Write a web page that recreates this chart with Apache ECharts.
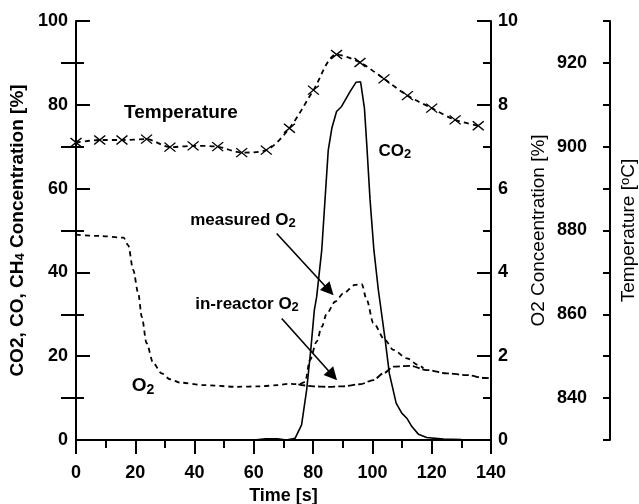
<!DOCTYPE html>
<html><head><meta charset="utf-8">
<script src="https://cdn.jsdelivr.net/npm/echarts@6/dist/echarts.min.js"></script>
<style>html,body{margin:0;padding:0;background:#fff}#c{width:639px;height:504px}</style>
</head><body><div id="c"></div>
<script>
// ---- data ----
const co2Time = [0, 20, 40, 60, 64, 68, 71, 73.9, 76.1, 77.8, 79.2, 80.4, 81.2, 82.9, 84.0, 85.1, 86.3, 87.9, 89.6, 92.4, 94.5, 96.0, 97.3, 98.1, 99.2, 100.5, 102.0, 104.3, 105.7, 108.0, 109.9, 111.6, 113.3, 115.5, 118.3, 124, 130, 140];
const co2 = [0, 0, 0, 0, 0.3, 0.3, 0, 0.4, 3.6, 11.9, 21.5, 31.0, 34.2, 45.3, 57.3, 69.2, 74.4, 78.4, 79.6, 83.1, 85.4, 85.5, 79.2, 70.4, 57.3, 45.3, 35.8, 23.9, 15.9, 8.8, 6.4, 5.2, 3.2, 1.4, 0.6, 0.2, 0.1, 0];

const measO2Time = [0, 8, 16, 17.6, 19.3, 21.0, 22.2, 23.8, 26.1, 28.9, 31.7, 35.1, 42.9, 54.2, 62, 68, 72, 75, 77.3, 78.9, 81.2, 82.9, 84.6, 87.4, 90.2, 94.1, 96.4, 98.1, 100.3, 104.2, 107.1, 111.6, 115.5, 117.2];
const measO2 = [4.9, 4.87, 4.83, 4.65, 4.06, 3.5, 2.94, 2.31, 1.83, 1.59, 1.45, 1.37, 1.31, 1.27, 1.28, 1.31, 1.34, 1.33, 1.38, 1.91, 2.35, 2.70, 3.02, 3.3, 3.5, 3.7, 3.72, 3.34, 2.79, 2.39, 2.15, 1.95, 1.79, 1.71];

const inO2Time = [75, 80, 85, 90, 95.8, 100.3, 103.7, 107.1, 112.7, 118.3, 125.1, 131.8, 138, 140];
const inO2 = [1.33, 1.28, 1.27, 1.28, 1.33, 1.43, 1.59, 1.75, 1.77, 1.67, 1.59, 1.55, 1.48, 1.47];

const tempTime = [0, 8, 15.5, 23.8, 31.7, 39.5, 47.8, 55.9, 64.2, 72, 80.1, 87.9, 95.8, 103.9, 111.8, 120, 127.9, 135.7];
const temp = [901.0, 901.6, 901.6, 901.8, 899.9, 900.2, 900.0, 898.6, 899.2, 904.4, 913.5, 922.0, 920.1, 916.2, 912.2, 909.2, 906.4, 905.0];

const tempMajorTicks = [840, 860, 880, 900, 920];

// annotation anchors in (time, left-axis %) units
const notes = [
  {t: 35.4, v: 78.0, text: '{t|Temperature}'},
  {t: 107.6, v: 69.0, text: '{a|CO}{s|2}'},
  {t: 56.3, v: 52.5, text: '{a|measured O}{s|2}'},
  {t: 57.7, v: 32.5, text: '{a|in-reactor O}{s|2}'},
  {t: 22.6, v: 12.9, text: '{b|O}{sb|2}'}
];
const arrows = [
  [[67.7, 49.3], [85.4, 35.7]],
  [[69.4, 29.0], [86.6, 15.4]]
];

// ---- chart ----
const FONT = '"Liberation Sans", Arial, sans-serif';
const pair = (xs, ys) => xs.map((x, i) => [x, ys[i]]);
const BLK = '#000';
const lineS = {color: BLK, width: 2};
const lbl = (m) => ({margin: m, color: BLK, fontSize: 18, fontWeight: 'bold', fontFamily: FONT});

const chart = echarts.init(document.getElementById('c'), null, {renderer: 'canvas'});
const option = {
  animation: false,
  backgroundColor: '#fff',
  grid: {left: 76, right: 148, top: 21, bottom: 64, containLabel: false, outerBoundsMode: 'none'},
  xAxis: {
    type: 'value', min: 0, max: 140, interval: 20,
    axisLine: {onZero: false, lineStyle: lineS},
    axisTick: {length: 14, lineStyle: lineS},
    minorTick: {show: true, splitNumber: 2, length: 8, lineStyle: lineS},
    splitLine: {show: false}, minorSplitLine: {show: false},
    axisLabel: lbl(24),
    name: 'Time [s]', nameLocation: 'middle', nameGap: 45,
    nameTextStyle: {color: BLK, fontSize: 18, fontWeight: 'bold', fontFamily: FONT}
  },
  yAxis: [
    {
      type: 'value', min: 0, max: 100, interval: 20, position: 'left',
      axisLine: {show: true, onZero: false, lineStyle: lineS},
      axisTick: {show: true, inside: true, length: 14, lineStyle: lineS},
      minorTick: {show: true, splitNumber: 2, length: 8, lineStyle: lineS},
      splitLine: {show: false}, minorSplitLine: {show: false},
      axisLabel: lbl(8),
      name: 'CO2, CO, CH{s|4} Concentration [%]', nameLocation: 'middle', nameGap: 48, nameRotate: 90,
      nameTextStyle: {color: BLK, fontSize: 19, fontWeight: 'bold', fontFamily: FONT,
        rich: {s: {fontSize: 13, fontWeight: 'bold', fontFamily: FONT, color: BLK, lineHeight: 10, verticalAlign: 'bottom'}}}
    },
    {
      type: 'value', min: 0, max: 10, interval: 2, position: 'right',
      axisLine: {show: true, onZero: false, lineStyle: lineS},
      axisTick: {show: true, inside: true, length: 14, lineStyle: lineS},
      minorTick: {show: true, splitNumber: 2, length: 8, lineStyle: lineS},
      splitLine: {show: false}, minorSplitLine: {show: false},
      axisLabel: lbl(7),
      name: 'O2 Conceentration [%]', nameLocation: 'middle', nameGap: 35, nameRotate: 90,
      nameTextStyle: {color: BLK, fontSize: 19, fontFamily: FONT}
    },
    {
      type: 'value', min: 830, max: 930, interval: 10, position: 'right', offset: 119,
      axisLine: {show: true, onZero: false, lineStyle: lineS},
      axisTick: {show: true, inside: true, length: 7, lineStyle: lineS},
      splitLine: {show: false},
      axisLabel: Object.assign(lbl(23), {inside: true,
        formatter: v => tempMajorTicks.indexOf(v) >= 0 ? String(v) : ''}),
      name: 'Temperature [{o|o}C]', nameLocation: 'middle', nameGap: 9, nameRotate: 90,
      nameTextStyle: {color: BLK, fontSize: 19, fontFamily: FONT,
        rich: {o: {fontSize: 13, fontFamily: FONT, color: BLK, lineHeight: 10, verticalAlign: 'top'}}}
    },
    {
      type: 'value', min: 830, max: 930, position: 'right', offset: 119,
      axisLine: {show: false},
      axisTick: {show: true, inside: true, length: 15, lineStyle: lineS, customValues: tempMajorTicks},
      axisLabel: {show: false},
      splitLine: {show: false}
    }
  ],
  series: [
    {
      type: 'line', name: 'CO2', yAxisIndex: 0, data: pair(co2Time, co2),
      symbol: 'none', silent: true,
      lineStyle: {color: BLK, width: 1.6},
      markLine: {
        silent: true, symbol: ['none', 'triangle'], symbolSize: 13,
        lineStyle: {color: BLK, width: 1.6, type: 'solid'},
        itemStyle: {color: BLK},
        label: {show: false},
        data: arrows.map(a => [{coord: a[0]}, {coord: a[1]}])
      }
    },
    {
      type: 'line', name: 'measured O2', yAxisIndex: 1, data: pair(measO2Time, measO2),
      symbol: 'none', silent: true, smooth: 0.3, smoothMonotone: 'x',
      lineStyle: {color: BLK, width: 1.8, type: [5, 4]}
    },
    {
      type: 'line', name: 'in-reactor O2', yAxisIndex: 1, data: pair(inO2Time, inO2),
      symbol: 'none', silent: true, smooth: 0.3, smoothMonotone: 'x',
      lineStyle: {color: BLK, width: 1.8, type: [7, 3]}
    },
    {
      type: 'line', name: 'Temperature', yAxisIndex: 2, data: pair(tempTime, temp),
      smooth: 0.3, silent: true, showAllSymbol: true,
      symbol: 'path://M0,0L10,8M0,8L10,0', symbolSize: [11, 9],
      itemStyle: {color: 'rgba(0,0,0,0)', borderColor: BLK, borderWidth: 1.3},
      lineStyle: {color: BLK, width: 1.8, type: [5, 4]}
    }
  ]
};
chart.setOption(option);

const RICH = {
  t: {fontSize: 19, fontWeight: 'bold', fontFamily: FONT, fill: BLK, lineHeight: 22},
  a: {fontSize: 17, fontWeight: 'bold', fontFamily: FONT, fill: BLK, lineHeight: 20},
  s: {fontSize: 13, fontWeight: 'bold', fontFamily: FONT, fill: BLK, lineHeight: 10, verticalAlign: 'bottom'},
  b: {fontSize: 19, fontWeight: 'bold', fontFamily: FONT, fill: BLK, lineHeight: 22},
  sb: {fontSize: 14, fontWeight: 'bold', fontFamily: FONT, fill: BLK, lineHeight: 10, verticalAlign: 'bottom'}
};
const graphics = notes.map(n => {
  const p = chart.convertToPixel({xAxisIndex: 0, yAxisIndex: 0}, [n.t, n.v]);
  return {type: 'text', x: p[0], y: p[1], silent: true,
    style: {text: n.text, rich: RICH, align: 'center', verticalAlign: 'middle', fill: BLK, fontFamily: FONT}};
});
chart.setOption({graphic: graphics});
</script>
</body></html>
